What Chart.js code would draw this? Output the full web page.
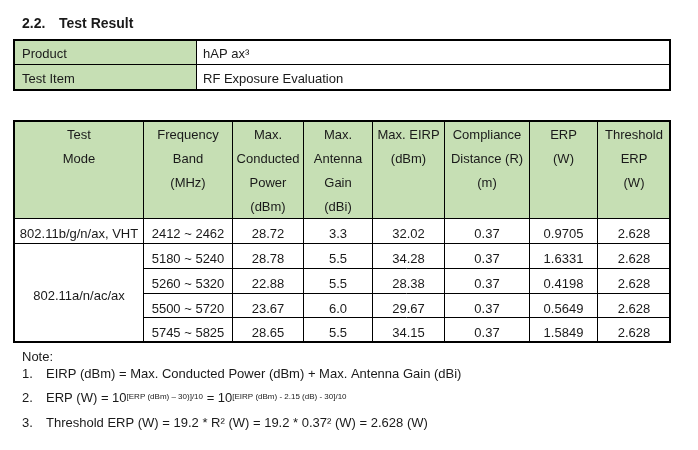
<!DOCTYPE html>
<html>
<head>
<meta charset="utf-8">
<script src="https://cdn.jsdelivr.net/npm/chart.js@4"></script>
<style>
  html, body { margin: 0; padding: 0; background: #ffffff; }
  #wrap { width: 698px; height: 450px; }
</style>
</head>
<body>
<div id="wrap"><canvas id="chart" width="698" height="450"></canvas></div>
<script>
// Section heading and product table
const headingNumber = '2.2.';
const headingTitle = 'Test Result';
const productLabels = ['Product', 'Test Item'];
const productValues = ['hAP ax\u00B3', 'RF Exposure Evaluation'];

// Column headers (one entry per line)
const columnHeaders = [
    ['Test', 'Mode'],
    ['Frequency', 'Band', '(MHz)'],
    ['Max.', 'Conducted', 'Power', '(dBm)'],
    ['Max.', 'Antenna', 'Gain', '(dBi)'],
    ['Max. EIRP', '(dBm)'],
    ['Compliance', 'Distance (R)', '(m)'],
    ['ERP', '(W)'],
    ['Threshold', 'ERP', '(W)']
];

// Test modes and how many band rows each one spans
const testModes = ['802.11b/g/n/ax, VHT', '802.11a/n/ac/ax'];
const modeRowSpans = [1, 4];

// Series values per band row
const frequencyBands = ['2412 ~ 2462', '5180 ~ 5240', '5260 ~ 5320', '5500 ~ 5720', '5745 ~ 5825'];
const conductedPower = ['28.72', '28.78', '22.88', '23.67', '28.65'];
const antennaGain = ['3.3', '5.5', '5.5', '6.0', '5.5'];
const maxEirp = ['32.02', '34.28', '28.38', '29.67', '34.15'];
const complianceDistance = ['0.37', '0.37', '0.37', '0.37', '0.37'];
const erpWatts = ['0.9705', '1.6331', '0.4198', '0.5649', '1.5849'];
const thresholdErp = ['2.628', '2.628', '2.628', '2.628', '2.628'];

// Notes under the table
const noteTitle = 'Note:';
const note1 = 'EIRP (dBm) = Max. Conducted Power (dBm) + Max. Antenna Gain (dBi)';
const note2Parts = ['ERP (W) = 10', '[ERP (dBm) \u2013 30)]/10', ' = 10', '[EIRP (dBm) - 2.15 (dB) - 30]/10'];
const note3 = 'Threshold ERP (W) = 19.2 * R\u00B2 (W) = 19.2 * 0.37\u00B2 (W) = 2.628 (W)';

const FONT = '"Liberation Sans", Arial, sans-serif';
const GREEN = '#c6dfb4';
const TEXT = '#1a1a1a';

// layout in page units (the hidden scales map them to pixels)
const colEdges = [14, 143, 232, 303, 372, 444, 529, 597, 670];
const headTop = 121, headBottom = 218;
const rowEdges = [218, 243, 268, 293, 317, 342];

const tablePlugin = {
    id: 'tablePlugin',
    afterDraw(c) {
        const ctx = c.ctx;
        const sx = v => c.scales.x.getPixelForValue(v);
        const sy = v => c.scales.y.getPixelForValue(v);

        ctx.save();
        ctx.fillStyle = TEXT;
        ctx.textBaseline = 'alphabetic';

        // heading
        ctx.font = 'bold 14px ' + FONT;
        ctx.textAlign = 'left';
        ctx.fillText(headingNumber, sx(22), sy(28));
        ctx.fillText(headingTitle, sx(59), sy(28));

        // product table
        ctx.fillStyle = GREEN;
        ctx.fillRect(sx(14), sy(40), sx(196) - sx(14), sy(90) - sy(40));
        ctx.strokeStyle = '#000';
        ctx.lineWidth = 1;
        ctx.beginPath();
        ctx.moveTo(sx(14), sy(64.5)); ctx.lineTo(sx(670), sy(64.5));
        ctx.moveTo(sx(196.5), sy(40)); ctx.lineTo(sx(196.5), sy(90));
        ctx.stroke();
        ctx.lineWidth = 2;
        ctx.strokeRect(sx(14), sy(40), sx(670) - sx(14), sy(90) - sy(40));

        ctx.fillStyle = TEXT;
        ctx.font = '13px ' + FONT;
        productLabels.forEach((t, i) => {
            const base = 57.5 + i * 25;
            ctx.fillText(t, sx(22), sy(base));
            ctx.fillText(productValues[i], sx(203), sy(base));
        });

        // main table header fill
        ctx.fillStyle = GREEN;
        ctx.fillRect(sx(14), sy(headTop), sx(670) - sx(14), sy(headBottom) - sy(headTop));

        // grid lines
        ctx.strokeStyle = '#000';
        ctx.lineWidth = 1;
        ctx.beginPath();
        for (let i = 1; i < colEdges.length - 1; i++) {
            ctx.moveTo(sx(colEdges[i] + 0.5), sy(headTop));
            ctx.lineTo(sx(colEdges[i] + 0.5), sy(rowEdges[rowEdges.length - 1]));
        }
        rowEdges.slice(0, -1).forEach((y, i) => {
            const x0 = (i >= 2) ? colEdges[1] : colEdges[0];
            ctx.moveTo(sx(x0), sy(y + 0.5));
            ctx.lineTo(sx(670), sy(y + 0.5));
        });
        ctx.stroke();
        ctx.lineWidth = 2;
        ctx.strokeRect(sx(14), sy(headTop), sx(670) - sx(14), sy(342) - sy(headTop));

        // header text
        ctx.fillStyle = TEXT;
        ctx.textAlign = 'center';
        columnHeaders.forEach((lines, ci) => {
            const cx = (colEdges[ci] + colEdges[ci + 1]) / 2 + 0.5;
            lines.forEach((t, li) => {
                ctx.fillText(t, sx(cx), sy(headTop + 17.5 + li * 24));
            });
        });

        // test mode cells
        let r = 0;
        testModes.forEach((m, i) => {
            const top = rowEdges[r];
            const bottom = rowEdges[r + modeRowSpans[i]];
            const base = modeRowSpans[i] === 1 ? top + 20 : (top + bottom) / 2 + 7;
            ctx.fillText(m, sx((colEdges[0] + colEdges[1]) / 2 + 0.5), sy(base));
            r += modeRowSpans[i];
        });

        // data cells
        const cols = [frequencyBands, conductedPower, antennaGain, maxEirp, complianceDistance, erpWatts, thresholdErp];
        cols.forEach((vals, k) => {
            const ci = k + 1;
            const cx = (colEdges[ci] + colEdges[ci + 1]) / 2 + 0.5;
            vals.forEach((v, ri) => {
                ctx.fillText(v, sx(cx), sy(rowEdges[ri] + 20));
            });
        });

        // notes
        ctx.textAlign = 'left';
        ctx.fillText(noteTitle, sx(22), sy(361));
        const noteBases = [377.5, 402, 426.5];
        ['1.', '2.', '3.'].forEach((n, i) => ctx.fillText(n, sx(22), sy(noteBases[i])));
        ctx.fillText(note1, sx(46), sy(noteBases[0]));
        ctx.fillText(note3, sx(46), sy(noteBases[2]));

        let x = sx(46);
        note2Parts.forEach((part, i) => {
            const sup = i % 2 === 1;
            ctx.font = (sup ? '8px ' : '13px ') + FONT;
            ctx.fillText(part, x, sy(noteBases[1] - (sup ? 3.5 : 0)));
            x += ctx.measureText(part).width;
        });

        ctx.restore();
    }
};

const chart = new Chart(document.getElementById('chart'), {
    type: 'scatter',
    data: { datasets: [] },
    options: {
        responsive: false,
        animation: false,
        devicePixelRatio: 1,
        layout: { padding: 0 },
        plugins: { legend: { display: false }, tooltip: { enabled: false } },
        scales: {
            x: { type: 'linear', min: 0, max: 698, display: false },
            y: { type: 'linear', min: 0, max: 450, reverse: true, display: false }
        }
    },
    plugins: [tablePlugin]
});
</script>
</body>
</html>
